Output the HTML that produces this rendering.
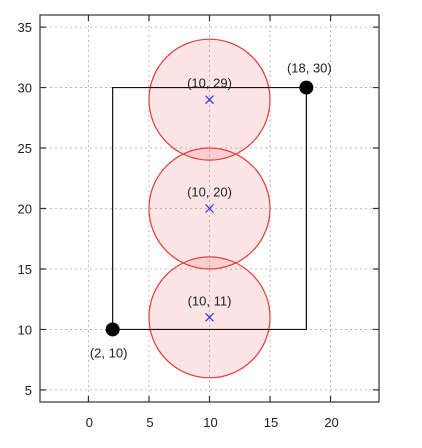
<!DOCTYPE html>
<html><head><meta charset="utf-8"><style>
html,body{margin:0;padding:0;background:#fff;width:422px;height:448px;overflow:hidden}
text{font-family:"Liberation Sans",sans-serif;font-size:13px;fill:#222}
</style></head><body>
<svg id="chart" width="422" height="448" xmlns="http://www.w3.org/2000/svg"></svg>
<script>
const xTicks=[0,5,10,15,20];
const yTicks=[5,10,15,20,25,30,35];
const circleX=[10,10,10];
const circleY=[11,20,29];
const circleR=[5,5,5];
const pathX=[2,2,18,18,2];
const pathY=[10,30,30,10,10];
const dotX=[2,18];
const dotY=[10,30];
const dotLabels=["(2, 10)","(18, 30)"];
const L=40,R=379,T=15,B=402,X0=-4,X1=24,Y0=4,Y1=36;
const sx=v=>L+(v-X0)/(X1-X0)*(R-L);
const sy=v=>B-(v-Y0)/(Y1-Y0)*(B-T);
const svg=document.getElementById('chart');
const NS='http://www.w3.org/2000/svg';
function mk(tag,attrs,parent){const e=document.createElementNS(NS,tag);for(const k in attrs)e.setAttribute(k,attrs[k]);(parent||svg).appendChild(e);return e;}
xTicks.forEach(t=>{const g=mk('line',{x1:sx(t),x2:sx(t),y1:T,y2:B,stroke:'#aaa','stroke-dasharray':'2,3','stroke-width':0.8});

});
yTicks.forEach(t=>{const g=mk('line',{x1:L,x2:R,y1:sy(t),y2:sy(t),stroke:'#aaa','stroke-dasharray':'2,3','stroke-width':0.8});

});
circleX.forEach((cx,i)=>{const c=mk('ellipse',{cx:sx(cx),cy:sy(circleY[i]),rx:sx(circleR[i])-sx(0),ry:sy(0)-sy(circleR[i]),fill:'rgba(240,80,80,0.15)',stroke:'#e53935','stroke-width':1.2});

});
const pl=mk('polyline',{points:pathX.map((x,i)=>sx(x)+','+sy(pathY[i])).join(' '),fill:'none',stroke:'#111','stroke-width':1.2});


circleX.forEach((cx,i)=>{const x=sx(cx),y=sy(circleY[i]);
const m=mk('path',{d:`M${x-4},${y-4}L${x+4},${y+4}M${x-4},${y+4}L${x+4},${y-4}`,stroke:'#3333ee','stroke-width':1.2});


const t=mk('text',{x:x,y:y-12,'text-anchor':'middle'});t.textContent='('+cx+', '+circleY[i]+')';

});
dotX.forEach((dx,i)=>{const c=mk('circle',{cx:sx(dx),cy:sy(dotY[i]),r:7,fill:'#000'});


const t=mk('text',{x:i==0?sx(dx)-4:sx(dx)+3,y:i==0?sy(dotY[i])+28:sy(dotY[i])-15,'text-anchor':'middle'});t.textContent=dotLabels[i];

});
const f=mk('rect',{x:L,y:T,width:R-L,height:B-T,fill:'none',stroke:'#333','stroke-width':1.2});


xTicks.forEach(t=>{const x=sx(t);
const a=mk('path',{d:`M${x},${B}V${B-6}M${x},${T}V${T+6}`,stroke:'#333','stroke-width':1.2});


const lb=mk('text',{x:x+1,y:427,'text-anchor':'middle'});lb.textContent=t;

});
yTicks.forEach(t=>{const y=sy(t);
const a=mk('path',{d:`M${L},${y}H${L+6}M${R},${y}H${R-6}`,stroke:'#333','stroke-width':1.2});


const lb=mk('text',{x:32,y:y+5,'text-anchor':'end'});lb.textContent=t;

});
</script>
</body></html>
